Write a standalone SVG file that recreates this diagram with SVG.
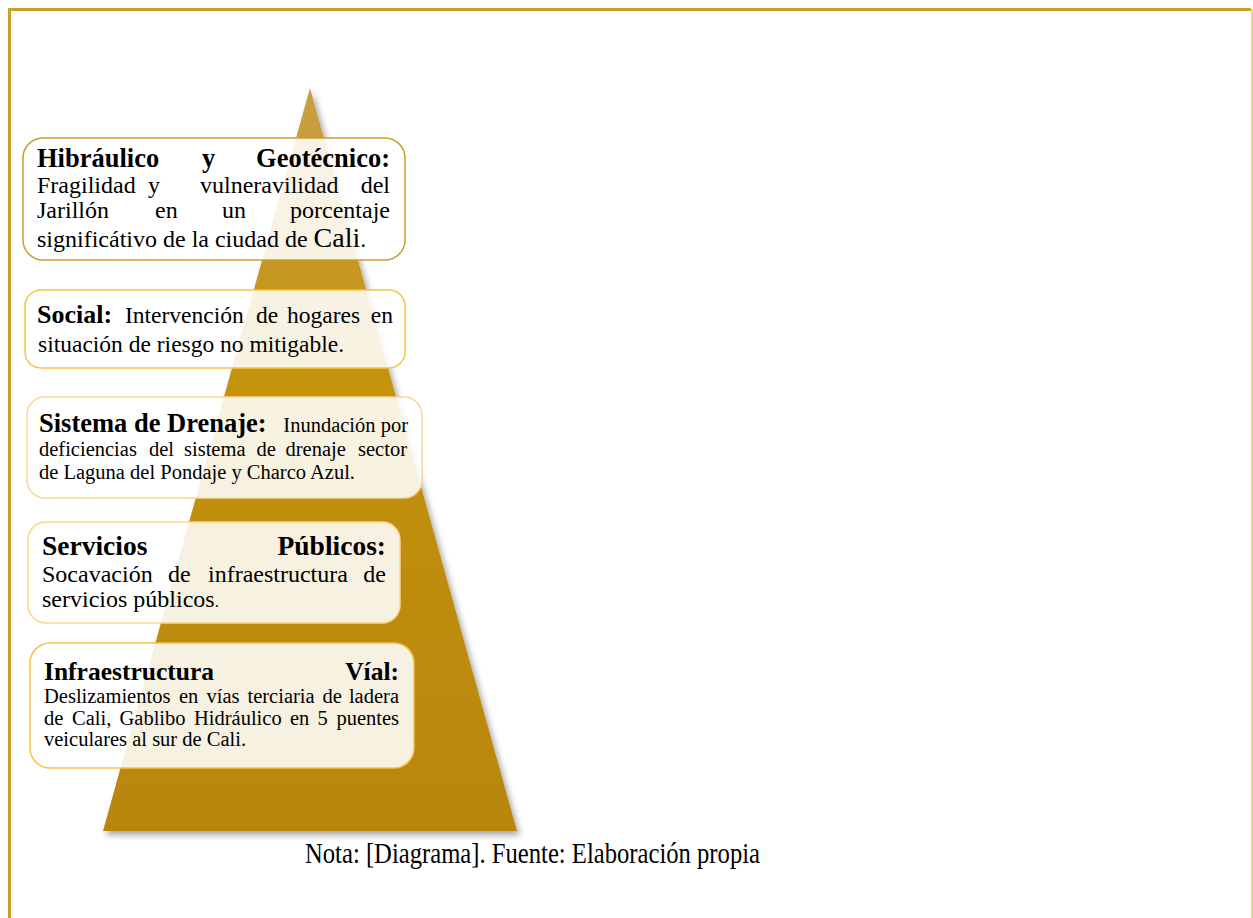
<svg xmlns="http://www.w3.org/2000/svg" width="1253" height="918" viewBox="0 0 1253 918">
<style>
  text { font-family: "Liberation Serif", "Times New Roman", serif; fill: #000; }
  .t { font-weight: bold; }
  .box { fill: #ffffff; fill-opacity: 0.88; stroke-width: 1.5; }
  .e { text-anchor: end; }
</style>
<defs>
  <linearGradient id="tri" x1="0" y1="0" x2="0" y2="1">
    <stop offset="0" stop-color="#c99f45"/>
    <stop offset="0.4" stop-color="#c4920c"/>
    <stop offset="1" stop-color="#b8860b"/>
  </linearGradient>
  <filter id="sh" x="-20%" y="-10%" width="140%" height="130%">
    <feDropShadow dx="3" dy="4" stdDeviation="3" flood-color="#000" flood-opacity="0.35"/>
  </filter>
</defs>
<rect width="1253" height="918" fill="#fff"/>
<path d="M9.5 918 V9.5 H1251" fill="none" stroke="#c9a02a" stroke-width="3"/>
<path d="M1252 9 V918" fill="none" stroke="#ead48e" stroke-width="2"/>

<g id="pyramid">
  <polygon points="310,88 517,831 103,831" fill="url(#tri)" filter="url(#sh)"/>
</g>

<g id="connectors"></g>

<g id="node-hidraulico">
  <rect class="box" x="23" y="138" width="382" height="122" rx="20" stroke="#c8a02e"/>
  <text y="167" font-size="26.5" class="t"><tspan x="37">Hibráulico</tspan><tspan x="202">y</tspan><tspan x="390" class="e">Geotécnico:</tspan></text>
  <text y="193" font-size="24"><tspan x="37">Fragilidad</tspan><tspan x="148">y</tspan><tspan x="200">vulneravilidad</tspan><tspan x="390" class="e">del</tspan></text>
  <text y="218" font-size="24"><tspan x="37">Jarillón</tspan><tspan x="155">en</tspan><tspan x="222">un</tspan><tspan x="390" class="e">porcentaje</tspan></text>
  <text x="37" y="247" font-size="24">significátivo de la ciudad de <tspan font-size="28">Cali</tspan>.</text>
</g>

<g id="node-social">
  <rect class="box" x="25" y="290" width="380" height="78" rx="16" stroke="#f6c348"/>
  <text y="323"><tspan x="37" font-size="26" class="t">Social:</tspan><tspan x="125" font-size="23.5">Intervención</tspan><tspan x="256" font-size="23.5">de</tspan><tspan x="287" font-size="23.5">hogares</tspan><tspan x="393" font-size="23.5" class="e">en</tspan></text>
  <text x="38" y="352" font-size="23.5">situación de riesgo no mitigable.</text>
</g>

<g id="node-drenaje">
  <rect class="box" x="27" y="397" width="395" height="101" rx="18" stroke="#fcd68e"/>
  <text y="432"><tspan x="39" font-size="26.5" class="t">Sistema de Drenaje:</tspan><tspan x="408" font-size="20.5" class="e">Inundación por</tspan></text>
  <text y="456" font-size="20.5"><tspan x="39">deficiencias</tspan><tspan x="149">del</tspan><tspan x="184">sistema</tspan><tspan x="256.5">de</tspan><tspan x="285.5">drenaje</tspan><tspan x="407" class="e">sector</tspan></text>
  <text x="39" y="479" font-size="20.5">de Laguna del Pondaje y Charco Azul.</text>
</g>

<g id="node-servicios">
  <rect class="box" x="28" y="522" width="372" height="101" rx="18" stroke="#fcd58e"/>
  <text y="555" font-size="27.5" class="t"><tspan x="42">Servicios</tspan><tspan x="386" class="e">Públicos:</tspan></text>
  <text y="582" font-size="24"><tspan x="42">Socavación</tspan><tspan x="168">de</tspan><tspan x="208">infraestructura</tspan><tspan x="386" class="e">de</tspan></text>
  <text x="42" y="607" font-size="24">servicios públicos<tspan font-size="16">.</tspan></text>
</g>

<g id="node-vial">
  <rect class="box" x="30" y="643" width="384" height="125" rx="20" stroke="#f8c14a"/>
  <text y="680" font-size="25.5" class="t"><tspan x="44">Infraestructura</tspan><tspan x="399" class="e">Víal:</tspan></text>
  <text y="703" font-size="20.5"><tspan x="44">Deslizamientos</tspan><tspan x="179">en</tspan><tspan x="206.5">vías</tspan><tspan x="247.5">terciaria</tspan><tspan x="322.5">de</tspan><tspan x="399" class="e">ladera</tspan></text>
  <text y="725" font-size="20.5"><tspan x="44">de</tspan><tspan x="72">Cali,</tspan><tspan x="119.5">Gablibo</tspan><tspan x="194">Hidráulico</tspan><tspan x="290">en</tspan><tspan x="317.5">5</tspan><tspan x="399" class="e">puentes</tspan></text>
  <text x="44" y="746" font-size="20.5">veiculares al sur de Cali.</text>
</g>

<g id="caption">
  <text x="305" y="863" font-size="30" textLength="455" lengthAdjust="spacingAndGlyphs">Nota: [Diagrama]. Fuente: Elaboración propia</text>
</g>
</svg>
